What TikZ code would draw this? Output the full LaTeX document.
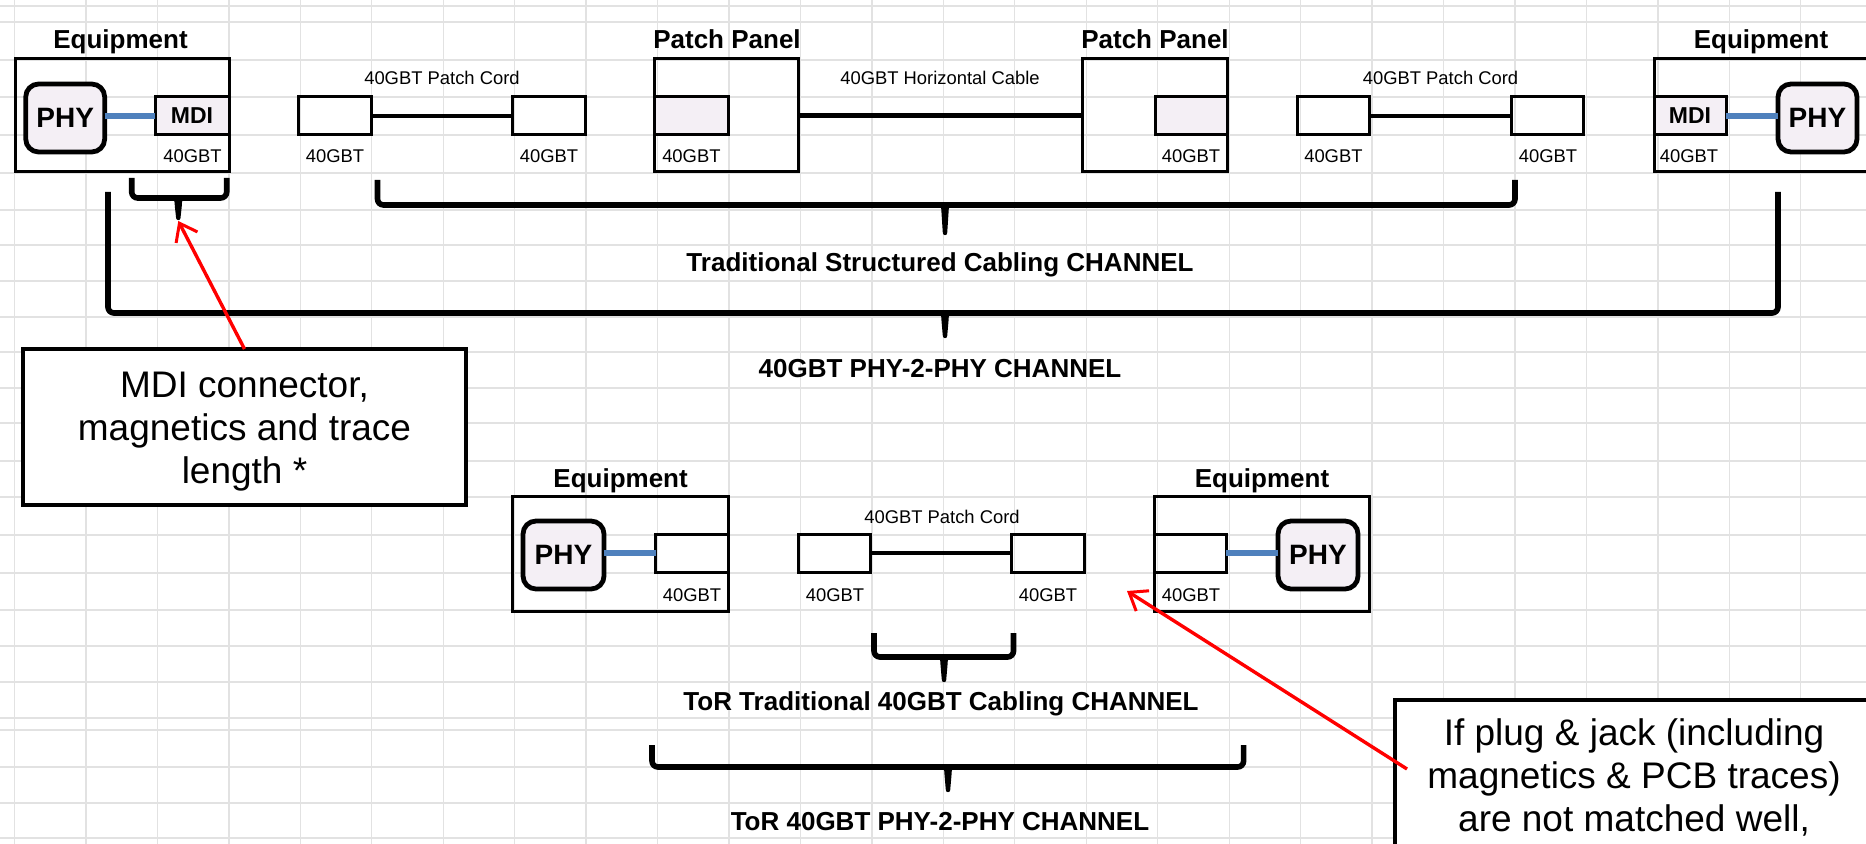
\documentclass[tikz,border=0pt]{standalone}
\usepackage{fontspec}
\setmainfont{Liberation Sans}
\usetikzlibrary{arrows.meta,fit,calc}
\definecolor{gridc}{HTML}{E2E2E2}
\definecolor{lav}{HTML}{F4EFF5}
\definecolor{linkblue}{HTML}{4F81BD}
\definecolor{callred}{HTML}{FF0000}
\newcommand{\chbrace}[6]{%
  \draw[brk] (#1,#3) -- (#1,#4) -- (#2,#4) -- (#2,#3);
  \fill ({#5-9},{#4-2.8}) -- ({#5+9},{#4-2.8}) .. controls ({#5+4},#4) and ({#5+3.5},{#4+3}) .. ({#5+3.5},{#4+8})
    -- ({#5+2.2},{#6-2}) .. controls ({#5+2.2},{#6+0.8}) and ({#5-2.2},{#6+0.8}) .. ({#5-2.2},{#6-2})
    -- ({#5-3.5},{#4+8}) .. controls ({#5-3.5},{#4+3}) and ({#5-4},#4) .. ({#5-9},{#4-2.8}) -- cycle;}
\begin{document}
\begin{tikzpicture}[x=0.5pt,y=-0.5pt,
  gridline/.style={draw=gridc,line width=0.65pt},
  box/.style={draw=black,line width=1.5pt,inner sep=0pt,outer sep=0pt},
  lavbox/.style={box,fill=lav},
  phybox/.style={draw=black,fill=lav,line width=2.4pt,rounded corners=6.5pt,inner sep=0pt,outer sep=0pt},
  phytext/.style={font=\bfseries\fontsize{14}{16}\selectfont,inner sep=0pt,anchor=center},
  mditext/.style={font=\bfseries\fontsize{11.5}{13}\selectfont,inner sep=0pt,anchor=center},
  lbl/.style={font=\bfseries\fontsize{13}{15}\selectfont,anchor=base,inner sep=0pt},
  small/.style={font=\fontsize{9.2}{11}\selectfont,anchor=base,inner sep=0pt},
  calltext/.style={font=\fontsize{18.5}{22}\selectfont,anchor=base,inner sep=0pt},
  callout/.style={draw=black,fill=white,line width=2.2pt,inner sep=0pt,outer sep=0pt},
  bluelink/.style={draw=linkblue,line width=3pt},
  cord/.style={draw=black,line width=2pt},
  brk/.style={draw=black,line width=2.8pt,rounded corners=3pt},
  redarr/.style={draw=callred,line width=1.7pt,-{Straight Barb[length=8pt,width=12pt,line width=1.5pt]}}
]
\useasboundingbox (0,0) rectangle (1866,844);
\clip (0,0) rectangle (1866,844);
\fill[white] (0,0) rectangle (1866,844);
% spreadsheet grid
\foreach \k in {0,...,25} \draw[gridline] ({14.5+71.45*\k},0) -- ({14.5+71.45*\k},844);
\foreach \y in {6,22,60,97,135,173,210,245,281,317,352,388,423,461,497,535,573,610,646,682,718,730,767,803,838}
  \draw[gridline] (0,\y) -- (1866,\y);

% ---------- top row ----------
\node[box,fit={(15,59) (229,172)}] (eqL) {};
\node[lavbox,fit={(155,97) (229,135)}] (mdiL) {};
\node[mditext] (mdiLt) at (mdiL.center) {MDI};
\node[phybox,fit={(25.7,84) (104.7,152)}] (phyL) {};
\node[phytext] (phyLt) at (phyL.center) {PHY};
\draw[bluelink] (mdiL.west -| phyL.east) -- (mdiL.west);

\node[box,fit={(298,97) (371.5,135)}] (pc1a) {};
\node[box,fit={(512.6,97) (585,135)}] (pc1b) {};
\draw[cord] (pc1a.east) -- (pc1b.west);

\node[box,fit={(654,59) (798,172)}] (ppL) {};
\node[lavbox,fit={(654,97) (728,135)}] (ppLin) {};
\node[box,fit={(1082,59) (1227,172)}] (ppR) {};
\node[lavbox,fit={(1155,97) (1227,135)}] (ppRin) {};
\draw[cord,line width=2.2pt] (ppL.east) -- (ppR.west);

\node[box,fit={(1297.5,97) (1369.4,135)}] (pc2a) {};
\node[box,fit={(1511,97) (1583.5,135)}] (pc2b) {};
\draw[cord] (pc2a.east) -- (pc2b.west);

\node[box,fit={(1654,59) (1920,172)}] (eqR) {};
\node[lavbox,fit={(1654,97) (1726,135)}] (mdiR) {};
\node[mditext] (mdiRt) at (mdiR.center) {MDI};
\node[phybox,fit={(1778,84) (1857,152)}] (phyR) {};
\node[phytext] (phyRt) at (phyR.center) {PHY};
\draw[bluelink] (mdiR.east) -- (mdiR.east -| phyR.west);

\node[lbl] (tEqL) at (120.5,49) {Equipment};
\node[lbl] (tPPL) at (727,49) {Patch Panel};
\node[lbl] (tPPR) at (1155,49) {Patch Panel};
\node[lbl] (tEqR) at (1761,49) {Equipment};
\node[small] (tPC1) at (442,85) {40GBT Patch Cord};
\node[small] (tHC) at (940,85) {40GBT Horizontal Cable};
\node[small] (tPC2) at (1440.5,85) {40GBT Patch Cord};
\node[small] (g1) at (192.5,163) {40GBT};
\node[small] (g2) at (335,163) {40GBT};
\node[small] (g3) at (549,163) {40GBT};
\node[small] (g4) at (691.4,163) {40GBT};
\node[small] (g5) at (1191,163) {40GBT};
\node[small] (g6) at (1333.4,163) {40GBT};
\node[small] (g7) at (1548,163) {40GBT};
\node[small] (g8) at (1689,163) {40GBT};

% top brackets
\chbrace{131.7}{226.7}{178}{198}{178.3}{220}
\chbrace{377.5}{1515}{180}{205}{945}{235}
\chbrace{108}{1778}{192}{313}{945}{338}
\node[lbl] (ch1) at (940,272) {Traditional Structured Cabling CHANNEL};
\node[lbl] (ch2) at (940,378) {40GBT PHY-2-PHY CHANNEL};

% ---------- bottom row ----------
\node[box,fit={(512,496) (728,611)}] (beqL) {};
\node[box,fit={(655.5,534) (728,572)}] (bjL) {};
\node[phybox,fit={(523,521) (604,589)}] (bphyL) {};
\node[phytext] (bphyLt) at (bphyL.center) {PHY};
\draw[bluelink] (bjL.west -| bphyL.east) -- (bjL.west);

\node[box,fit={(798,534) (870.6,572)}] (bpca) {};
\node[box,fit={(1011,534) (1084,572)}] (bpcb) {};
\draw[cord] (bpca.east) -- (bpcb.west);

\node[box,fit={(1154.6,496) (1369,611)}] (beqR) {};
\node[box,fit={(1154.6,534) (1226,572)}] (bjR) {};
\node[phybox,fit={(1278,521) (1358,589)}] (bphyR) {};
\node[phytext] (bphyRt) at (bphyR.center) {PHY};
\draw[bluelink] (bjR.east) -- (bjR.east -| bphyR.west);

\node[lbl] (bEqL) at (620.6,487) {Equipment};
\node[lbl] (bEqR) at (1262,487) {Equipment};
\node[small] (bPC) at (942,523) {40GBT Patch Cord};
\node[small] (h1) at (692,601) {40GBT};
\node[small] (h2) at (835,601) {40GBT};
\node[small] (h3) at (1048,601) {40GBT};
\node[small] (h4) at (1191,601) {40GBT};

\chbrace{874}{1013.5}{633}{657}{944}{682}
\chbrace{652}{1243.6}{745}{767}{948}{792}
\node[lbl] (ch3) at (941,710) {ToR Traditional 40GBT Cabling CHANNEL};
\node[lbl] (ch4) at (940,830) {ToR 40GBT PHY-2-PHY CHANNEL};

% ---------- callouts ----------
\coordinate (tip1) at (178.3,221);
\coordinate (tip2) at (1127,591);
\node[callout,fit={(23,349) (466,505)}] (co1) {};
\node[calltext] (co1a) at (244.5,397) {MDI connector,};
\node[calltext] (co1b) at (244.5,440) {magnetics and trace};
\node[calltext] (co1c) at (244.5,483) {length *};
\node[callout,fit={(1395,700) (1900,960)}] (co2) {};
\node[calltext] (co2a) at (1634,745) {If plug \& jack (including};
\node[calltext] (co2b) at (1634,788) {magnetics \& PCB traces)};
\node[calltext] (co2c) at (1634,831.7) {are not matched well,};
\draw[redarr] (co1.north) -- (tip1);
\draw[redarr] ([shift={(12,69)}]co2.north west) -- (tip2);
\end{tikzpicture}
\end{document}
